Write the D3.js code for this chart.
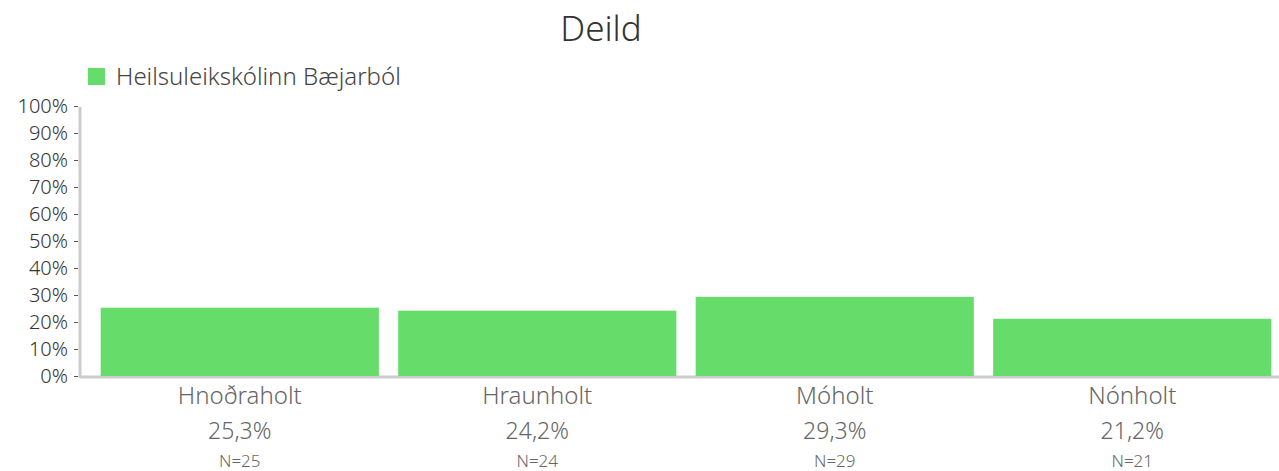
<!DOCTYPE html>
<html>
<head>
<meta charset="utf-8">
<script src="https://cdn.jsdelivr.net/npm/d3@7"></script>
<style>
  body { margin: 0; background: #fff; }
  text { font-family: "Noto Sans", Lato, sans-serif; font-weight: 300; }
</style>
</head>
<body>
<svg id="chart" width="1279" height="471"></svg>
<script>
// data
var categories = ["Hnoðraholt", "Hraunholt", "Móholt", "Nónholt"];
var values = [25.3, 24.2, 29.3, 21.2];
var counts = [25, 24, 29, 21];
var yTicks = [0, 10, 20, 30, 40, 50, 60, 70, 80, 90, 100];
var seriesName = "Heilsuleikskólinn Bæjarból";

var svg = d3.select("#chart");
var barColor = "#66dd6a";
var font = "'Noto Sans', Lato, sans-serif";

var x = d3.scaleBand()
    .domain(categories)
    .range([91, 1281])
    .paddingInner(0.065)
    .paddingOuter(0.0325);

var y = d3.scaleLinear()
    .domain([0, 100])
    .range([376, 106]);

// title
svg.append("text")
    .attr("x", 601).attr("y", 41)
    .attr("text-anchor", "middle")
    .style("font-size", "35px")
    .attr("fill", "#333")
    .text("Deild");

// legend
svg.append("rect")
    .attr("x", 88).attr("y", 68)
    .attr("width", 17).attr("height", 17)
    .attr("fill", barColor);
svg.append("text")
    .attr("x", 116).attr("y", 85)
    .style("font-size", "24px")
    .attr("fill", "#444")
    .text(seriesName);

// baseline
svg.append("line")
    .attr("x1", 80).attr("x2", 1279)
    .attr("y1", y(0) + 1).attr("y2", y(0) + 1)
    .attr("stroke", "#ccc").attr("stroke-width", 3);

// y axis
var yAxis = d3.axisLeft(y)
    .tickValues(yTicks)
    .tickFormat(d => d + "%")
    .tickSize(6)
    .tickPadding(6);
var ya = svg.append("g")
    .attr("transform", "translate(80,0)")
    .call(yAxis);
ya.select(".domain").attr("stroke", "#ccc").attr("stroke-width", 3)
    .attr("d", "M0," + (y(100) + 1) + "V" + (y(0) + 2));
ya.selectAll(".tick line").attr("stroke", "#555").attr("x2", -6).attr("x1", -2);
ya.selectAll(".tick text")
    .style("font-size", "20px")
    .style("font-family", font)
    .style("font-weight", 300)
    .attr("fill", "#333");

// bars
svg.selectAll("rect.bar")
    .data(categories)
    .enter()
    .append("rect")
    .attr("class", "bar")
    .attr("x", d => x(d))
    .attr("width", x.bandwidth())
    .attr("y", (d, i) => y(values[i]))
    .attr("height", (d, i) => y(0) - y(values[i]))
    .attr("fill", barColor);

// category labels
var labels = svg.selectAll("g.lab")
    .data(categories)
    .enter()
    .append("g")
    .attr("class", "lab")
    .attr("transform", d => "translate(" + (x(d) + x.bandwidth() / 2) + ",0)");

labels.append("text")
    .attr("y", 404)
    .attr("text-anchor", "middle")
    .style("font-size", "24px")
    .attr("fill", "#666")
    .text(d => d);

labels.append("text")
    .attr("y", 439)
    .attr("text-anchor", "middle")
    .style("font-size", "23px")
    .attr("fill", "#666")
    .text((d, i) => values[i].toFixed(1).replace(".", ",") + "%");

labels.append("text")
    .attr("y", 467)
    .attr("text-anchor", "middle")
    .style("font-size", "17px")
    .attr("fill", "#666")
    .text((d, i) => "N=" + counts[i]);
</script>
</body>
</html>
